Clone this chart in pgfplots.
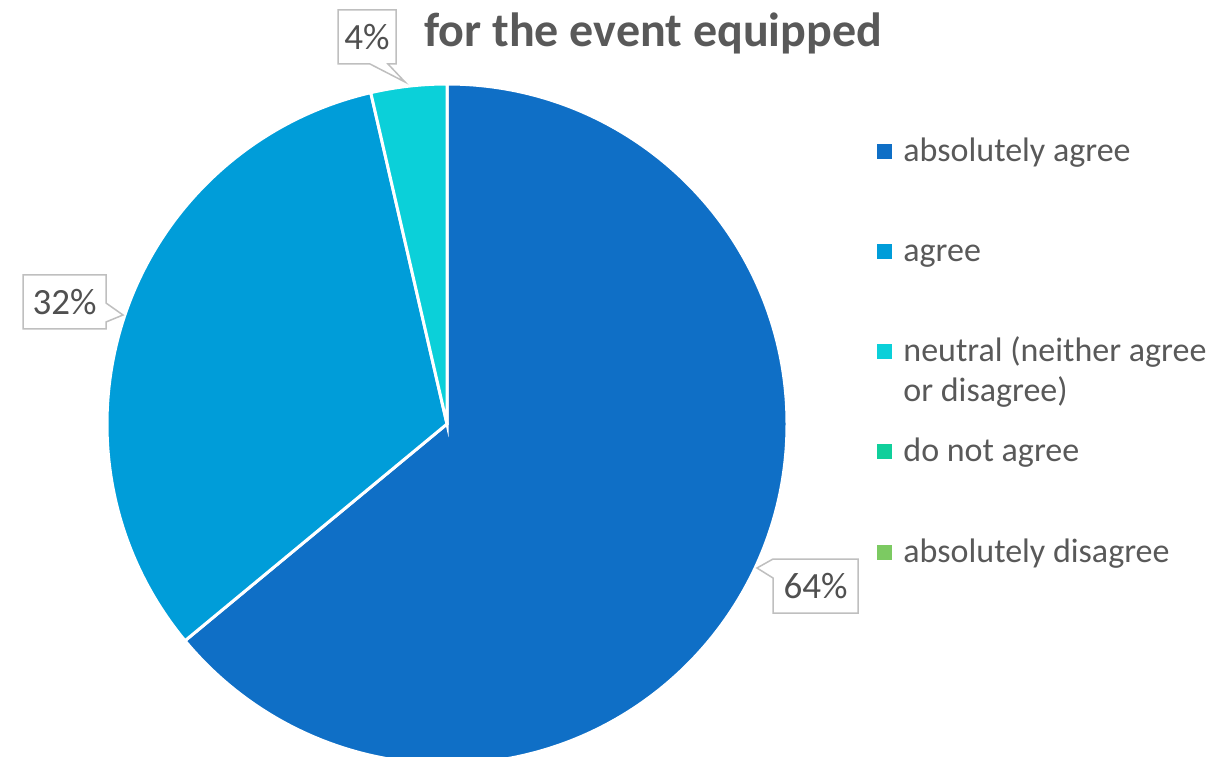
\documentclass[border=0pt]{standalone}
\usepackage{pgfplots}
\usepackage{pgfplotstable}
\pgfplotsset{compat=1.18}
\usepackage{fontspec}
\setmainfont{Carlito}
\definecolor{cA}{HTML}{0F6FC6}
\definecolor{cB}{HTML}{009DD9}
\definecolor{cC}{HTML}{0BD0D9}
\definecolor{cD}{HTML}{10CF9B}
\definecolor{cE}{HTML}{7CCA62}
\definecolor{txt}{HTML}{595959}
\definecolor{lbl}{HTML}{505050}
\definecolor{bx}{HTML}{BFBFBF}

\pgfplotstableread[col sep=comma]{
answer,share
absolutely agree,64.0
agree,32.4
neutral,3.6
do not agree,0
absolutely disagree,0
}\pietable

\begin{document}
\begin{tikzpicture}
\pgfplotstablegetelem{0}{share}\of\pietable \let\vA\pgfplotsretval
\pgfplotstablegetelem{1}{share}\of\pietable \let\vB\pgfplotsretval
\pgfplotstablegetelem{2}{share}\of\pietable \let\vC\pgfplotsretval
\pgfmathsetmacro\aA{90}
\pgfmathsetmacro\aB{90-3.6*\vA}
\pgfmathsetmacro\aC{\aB-3.6*\vB}
\pgfmathsetmacro\aD{\aC-3.6*\vC}
\useasboundingbox (0,0) rectangle (608pt,378pt);
\begin{axis}[
  at={(0,0)}, anchor=south west,
  scale only axis, width=608pt, height=378pt,
  xmin=0, xmax=1216, ymin=0, ymax=756,
  hide axis, clip=false,
]
% pie wedges (centre 447,332; radius 340 units = 170pt)
\fill[cA, draw=white, line width=1.5pt] (axis cs:447,332) -- ++(\aA:170pt) arc[start angle=\aA, end angle=\aB, radius=170pt] -- cycle;
\fill[cB, draw=white, line width=1.5pt] (axis cs:447,332) -- ++(\aB:170pt) arc[start angle=\aB, end angle=\aC, radius=170pt] -- cycle;
\fill[cC, draw=white, line width=1.5pt] (axis cs:447,332) -- ++(\aC:170pt) arc[start angle=\aC, end angle=\aD, radius=170pt] -- cycle;

% data label callouts
\draw[bx, fill=white, line width=0.75pt] (axis cs:338,746) -- (axis cs:396,746) -- (axis cs:396,692) -- (axis cs:388,692) -- (axis cs:405,674) -- (axis cs:370,692) -- (axis cs:338,692) -- cycle;
\node[lbl, font=\fontsize{18.5pt}{22pt}\selectfont] at (axis cs:367,719) {4\%};
\draw[bx, fill=white, line width=0.75pt] (axis cs:23,481) -- (axis cs:106,481) -- (axis cs:106,453) -- (axis cs:123,441) -- (axis cs:106,434) -- (axis cs:106,427) -- (axis cs:23,427) -- cycle;
\node[lbl, font=\fontsize{18.5pt}{22pt}\selectfont] at (axis cs:64.5,454) {32\%};
\draw[bx, fill=white, line width=0.75pt] (axis cs:773,197) -- (axis cs:858,197) -- (axis cs:858,143) -- (axis cs:773,143) -- (axis cs:773,178) -- (axis cs:757,188) -- cycle;
\node[lbl, font=\fontsize{18.5pt}{22pt}\selectfont] at (axis cs:815.5,170) {64\%};

% title
\node[txt, anchor=base west, inner sep=0pt, font=\fontsize{24pt}{28pt}\selectfont\bfseries] at (axis cs:424,709) {for the event equipped};

% legend
\fill[cA] (axis cs:877,596.5) rectangle (axis cs:892,611.5);
\fill[cB] (axis cs:877,496.5) rectangle (axis cs:892,511.5);
\fill[cC] (axis cs:877,396.5) rectangle (axis cs:892,411.5);
\fill[cD] (axis cs:877,296.5) rectangle (axis cs:892,311.5);
\fill[cE] (axis cs:877,196.5) rectangle (axis cs:892,211.5);
\begin{scope}[every node/.style={txt, anchor=base west, inner sep=0pt, font=\fontsize{17pt}{20pt}\selectfont}]
\node at (axis cs:903,594) {absolutely agree};
\node at (axis cs:903,494) {agree};
\node at (axis cs:903,394) {neutral (neither agree};
\node at (axis cs:903,354) {or disagree)};
\node at (axis cs:903,294) {do not agree};
\node at (axis cs:903,194) {absolutely disagree};
\end{scope}
\end{axis}
\end{tikzpicture}
\end{document}
